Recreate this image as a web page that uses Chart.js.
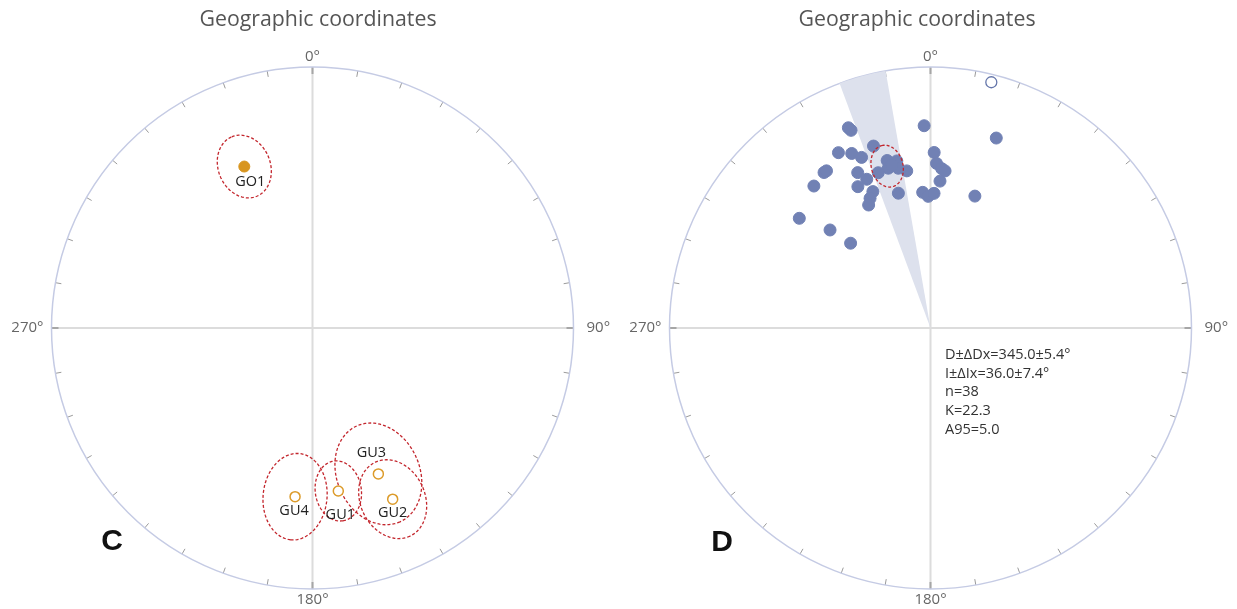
<!DOCTYPE html>
<html>
<head>
<meta charset="utf-8">
<script src="https://cdn.jsdelivr.net/npm/chart.js@4.4.0/dist/chart.umd.min.js"></script>
<style>
  html, body { margin: 0; padding: 0; background: #fff; }
  body { width: 1237px; height: 609px; position: relative; overflow: hidden; }
  canvas { position: absolute; top: 0; }
  #stereoC { left: 0; }
  #stereoD { left: 600px; }
</style>
</head>
<body>
<canvas id="stereoC" width="636" height="609"></canvas>
<canvas id="stereoD" width="634" height="609"></canvas>
<script>
// panel C: site means (declination, inclination, ellipse half-widths)
const siteNames = ['GO1', 'GU4', 'GU1', 'GU3', 'GU2'];
const siteDec = [337.1, 185.9, 171.0, 155.7, 154.9];
const siteInc = [33.3, -35.3, -36.9, -38.6, -28.4];
const siteDDx = [8.5, 10.8, 8.0, 14.8, 9.8];
const siteDIx = [11.4, 15.2, 10.5, 18.2, 14.8];

// panel D: individual directions
const dirDec = [337.7, 338.1, 358.2, 19.1, 342.6, 332.3, 335.7, 338.0, 1.2, 345.5,
                348.6, 345.2, 348.6, 341.4, 351.4, 2.1, 4.0, 5.3, 325.6, 326.5,
                334.9, 336.8, 3.7, 320.6, 332.8, 346.6, 337.1, 356.7, 359.0, 1.5,
                18.6, 335.0, 333.3, 309.9, 314.3, 316.7, 346.7, 13.9];
const dirInc = [18.2, 19.5, 23.5, 24.0, 27.8, 25.1, 27.5, 30.2, 33.2, 34.1,
                35.0, 36.8, 37.6, 37.3, 39.0, 37.0, 38.7, 39.4, 28.6, 28.6,
                34.6, 38.0, 43.0, 30.3, 39.0, 45.9, 42.7, 46.8, 48.2, 47.2,
                45.7, 44.4, 46.2, 34.8, 45.3, 53.2, 36.0, -3.4];

// panel D: mean and statistics
const meanDec = 345.0, meanDDx = 5.4;
const meanInc = 36.0, meanDIx = 7.4;
const kappa = 22.3, a95 = 5.0;

const chartTitle = 'Geographic coordinates';
const axisLabels = ['0°', '90°', '180°', '270°'];

// equal-area (Schmidt) projection, unit radius
function eqRadius(inc) {
  return Math.SQRT2 * Math.sin((90 - Math.abs(inc)) * Math.PI / 360);
}
function proj(dec, inc) {
  const r = eqRadius(inc);
  const d = dec * Math.PI / 180;
  return { x: r * Math.sin(d), y: r * Math.cos(d) };
}

// ellipse spanning I±ΔIx radially and D±ΔDx tangentially, centred on the direction
function ellipse(dec, inc, dDx, dIx) {
  const a = Math.abs(inc);
  const rc = eqRadius(a);
  const ra = (eqRadius(a - dIx) - eqRadius(a + dIx)) / 2;
  const rb = rc * dDx * Math.PI / 180;
  const d = dec * Math.PI / 180;
  const ux = Math.sin(d), uy = Math.cos(d);
  const pts = [];
  for (let i = 0; i <= 90; i++) {
    const t = i / 90 * 2 * Math.PI;
    const p = ra * Math.cos(t), q = rb * Math.sin(t);
    pts.push({ x: ux * (rc + p) + uy * q, y: uy * (rc + p) - ux * q });
  }
  return pts;
}

const netPlugin = {
  id: 'net',
  beforeDatasetsDraw(chart) {
    const ctx = chart.ctx;
    const sx = chart.scales.x, sy = chart.scales.y;
    const cx = sx.getPixelForValue(0), cy = sy.getPixelForValue(0);
    const R = sx.getPixelForValue(1) - cx;
    ctx.save();
    ctx.strokeStyle = '#dcdcdc';
    ctx.lineWidth = 2;
    ctx.beginPath();
    ctx.moveTo(cx, cy - R); ctx.lineTo(cx, cy + R);
    ctx.moveTo(cx - R, cy); ctx.lineTo(cx + R, cy);
    ctx.stroke();
    for (let d = 0; d < 360; d += 10) {
      const s = Math.sin(d * Math.PI / 180), c = Math.cos(d * Math.PI / 180);
      const main = d % 90 === 0;
      const len = main ? 7 : 6;
      ctx.strokeStyle = main ? '#a6a6a6' : '#9a9a9a';
      ctx.lineWidth = main ? 2 : 1;
      ctx.beginPath();
      ctx.moveTo(cx + s * R, cy - c * R);
      ctx.lineTo(cx + s * (R - len), cy - c * (R - len));
      ctx.stroke();
    }
    ctx.strokeStyle = '#c5cbe4';
    ctx.lineWidth = 1.5;
    ctx.beginPath();
    ctx.arc(cx, cy, R, 0, Math.PI * 2);
    ctx.stroke();

    ctx.fillStyle = '#666';
    ctx.font = '15px "Open Sans"';
    ctx.textBaseline = 'middle';
    ctx.textAlign = 'center';
    ctx.fillText(axisLabels[0], cx, cy - R - 10);
    ctx.fillText(axisLabels[2], cx, cy + R + 11);
    ctx.textAlign = 'left';
    ctx.fillText(axisLabels[1], cx + R + 13, cy);
    ctx.textAlign = 'right';
    ctx.fillText(axisLabels[3], cx - R - 8, cy);
    ctx.restore();
  }
};

// title and panel letter
function framePlugin(titleX, letter, lx, ly) {
  return {
    id: 'frame' + letter,
    afterDatasetsDraw(chart) {
      const ctx = chart.ctx;
      ctx.save();
      ctx.fillStyle = '#555';
      ctx.font = '21.3px "Open Sans"';
      ctx.textAlign = 'center';
      ctx.textBaseline = 'middle';
      ctx.fillText(chartTitle, titleX, 20);
      ctx.fillStyle = '#111';
      ctx.font = 'bold 30px "Liberation Sans"';
      ctx.fillText(letter, lx, ly);
      ctx.restore();
    }
  };
}

const labelShift = { GO1: [6, 15], GU4: [-1, 14], GU1: [2, 24], GU3: [-7, -21], GU2: [0, 14] };

const siteLabels = {
  id: 'siteLabels',
  afterDatasetsDraw(chart) {
    const ctx = chart.ctx;
    const sx = chart.scales.x, sy = chart.scales.y;
    ctx.save();
    ctx.fillStyle = '#222';
    ctx.font = '14.5px "Open Sans"';
    ctx.textAlign = 'center';
    ctx.textBaseline = 'middle';
    siteNames.forEach((name, i) => {
      const p = proj(siteDec[i], siteInc[i]);
      const sh = labelShift[name];
      ctx.fillText(name, sx.getPixelForValue(p.x) + sh[0], sy.getPixelForValue(p.y) + sh[1]);
    });
    ctx.restore();
  }
};

const statsText = {
  id: 'statsText',
  afterDatasetsDraw(chart) {
    const ctx = chart.ctx;
    const cx = chart.scales.x.getPixelForValue(0), cy = chart.scales.y.getPixelForValue(0);
    const lines = [
      'D±ΔDx=' + meanDec.toFixed(1) + '±' + meanDDx.toFixed(1) + '°',
      'I±ΔIx=' + meanInc.toFixed(1) + '±' + meanDIx.toFixed(1) + '°',
      'n=' + dirDec.length,
      'K=' + kappa.toFixed(1),
      'A95=' + a95.toFixed(1)
    ];
    ctx.save();
    ctx.fillStyle = '#333';
    ctx.font = '14.5px "Open Sans"';
    ctx.textAlign = 'left';
    ctx.textBaseline = 'middle';
    lines.forEach((t, i) => ctx.fillText(t, cx + 14.5, cy + 27 + i * 18.6));
    ctx.restore();
  }
};

function baseOptions(padLeft, padRight) {
  return {
    responsive: false,
    animation: false,
    layout: { padding: { left: padLeft, right: padRight, top: 67, bottom: 20 } },
    plugins: {
      legend: { display: false },
      tooltip: { enabled: false },
      title: { display: false }
    },
    scales: {
      x: { type: 'linear', min: -1, max: 1, display: false },
      y: { type: 'linear', min: -1, max: 1, display: false }
    }
  };
}

// panel C
const sitePts = siteDec.map((d, i) => proj(d, siteInc[i]));
const siteEllipses = siteDec.map((d, i) => ({
  data: ellipse(d, siteInc[i], siteDDx[i], siteDIx[i]),
  showLine: true,
  pointRadius: 0,
  borderColor: '#c3262d',
  borderWidth: 1.3,
  borderDash: [3, 2],
  fill: false
}));

new Chart(document.getElementById('stereoC'), {
  type: 'scatter',
  data: {
    datasets: [
      {
        data: sitePts.filter((p, i) => siteInc[i] >= 0),
        pointRadius: 5.5,
        pointBackgroundColor: '#d8951e',
        pointBorderColor: '#d8951e',
        pointBorderWidth: 1
      },
      {
        data: sitePts.filter((p, i) => siteInc[i] < 0),
        pointRadius: 5,
        pointBackgroundColor: '#fff',
        pointBorderColor: '#dc9b2a',
        pointBorderWidth: 1.5
      },
      ...siteEllipses
    ]
  },
  options: baseOptions(51.5, 62.5),
  plugins: [netPlugin, siteLabels, framePlugin(318, 'C', 112, 542)]
});

// panel D
const dirPts = dirDec.map((d, i) => proj(d, dirInc[i]));
const wedge = [{ x: 0, y: 0 }];
for (let a = meanDec - meanDDx; a <= meanDec + meanDDx + 1e-6; a += 0.5) wedge.push(proj(a, 0));
wedge.push({ x: 0, y: 0 });

new Chart(document.getElementById('stereoD'), {
  type: 'scatter',
  data: {
    datasets: [
      {
        data: ellipse(meanDec, meanInc, meanDDx, meanDIx),
        showLine: true,
        pointRadius: 0,
        borderColor: '#c3262d',
        borderWidth: 1.3,
        borderDash: [3, 2],
        fill: false
      },
      {
        data: dirPts.filter((p, i) => dirInc[i] >= 0),
        pointRadius: 6,
        pointBackgroundColor: '#7181b4',
        pointBorderColor: '#7181b4',
        pointBorderWidth: 1
      },
      {
        data: dirPts.filter((p, i) => dirInc[i] < 0),
        pointRadius: 5.5,
        pointBackgroundColor: '#fff',
        pointBorderColor: '#6677ab',
        pointBorderWidth: 1.3
      },
      {
        data: wedge,
        showLine: true,
        pointRadius: 0,
        borderWidth: 0,
        backgroundColor: '#dde1ed',
        fill: 'shape'
      }
    ]
  },
  options: baseOptions(69.5, 42.5),
  plugins: [netPlugin, statsText, framePlugin(317, 'D', 122, 543)]
});
</script>
</body>
</html>
